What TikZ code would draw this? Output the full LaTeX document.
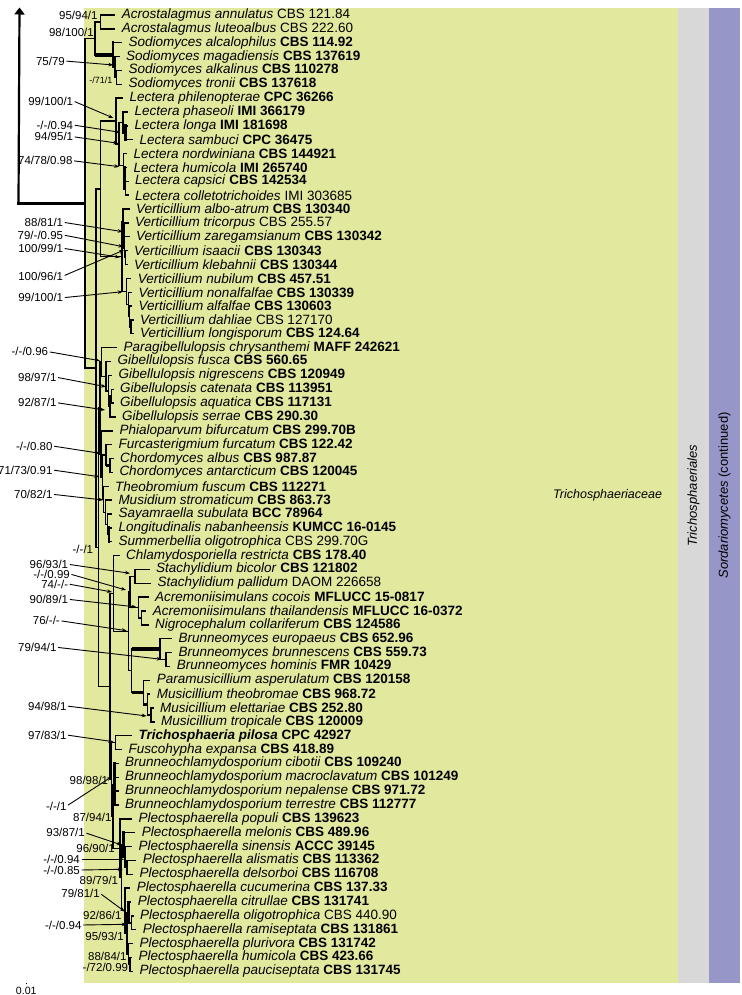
\documentclass[tikz,border=0pt]{standalone}
\usepackage{fontspec}
\setmainfont{Liberation Sans}
\usetikzlibrary{calc,arrows.meta}
\definecolor{famgreen}{RGB}{226,233,158}
\definecolor{ordgray}{RGB}{216,216,216}
\definecolor{clspurple}{RGB}{150,150,200}
\tikzset{
  br/.style={line width=1.4pt, line cap=rect},
  thk/.style={line width=3.6pt},
  thkv/.style={line width=2.8pt},
  taxon/.style={anchor=west, inner sep=0pt, font=\fontsize{13.5}{14}\selectfont},
  supp/.style={anchor=east, inner sep=0pt, font=\fontsize{11.5}{12}\selectfont},
  supps/.style={anchor=east, inner sep=0pt, font=\fontsize{9}{10}\selectfont},
  pointer/.style={line width=0.9pt, -{Stealth[length=5pt,width=3.6pt]}, shorten <=1.5pt},
}
\newcommand{\sn}[1]{\textit{#1}}
\newcommand{\st}[1]{\textbf{#1}}
\newcommand{\tipnode}[4]{%
  \pgfmathsetmacro\tipy{15+(#2-1)*13.86}%
  \pgfmathsetmacro\tipx{#3-7}%
  \coordinate (#1) at (\tipx,\tipy);
  \node[taxon] (#1-t) at (#3,\tipy) {#4};
}
\newcommand{\joinnode}[5][br]{%
  \path let \p1=(#4), \p2=(#5) in (#3pt,{(\y1+\y2)/2}) coordinate (#2);
  \draw[br,#1] (#2 |- #4) -- (#2 |- #5);
  \draw[br] (#2 |- #4) -- (#4);
  \draw[br] (#2 |- #5) -- (#5);
}
\newcommand{\suplab}[4][supp]{\node[#1] (#2) at (#3) {#4};}
\newcommand{\supptr}[5]{%
  \node[supp] (#1) at (#2) {#3};
  \coordinate (#1-to) at (#4,#5);
  \draw[pointer] (#1.east) -- (#1-to);
}
\begin{document}
\begin{tikzpicture}[x=1pt,y=-1pt]
\useasboundingbox (0,0) rectangle (741,995);
\fill[famgreen] (84,8) rectangle (678,983);
\fill[ordgray] (678,8) rectangle (709,983);
\fill[clspurple] (709,8) rectangle (740,983);

\node[font=\itshape\fontsize{12.5}{14}\selectfont, inner sep=0pt, anchor=west] (fam) at (553,495.5) {Trichosphaeriaceae};
\node[font=\itshape\fontsize{13}{14}\selectfont, inner sep=0pt, rotate=90] (ord) at (693.5,495.5) {Trichosphaeriales};
\node[font=\fontsize{13}{14}\selectfont, inner sep=0pt, rotate=90] (cls) at (724.5,495.5) {\textit{Sordariomycetes} (continued)};

% taxa
\tipnode{t1}{1}{121.7}{\sn{Acrostalagmus annulatus} CBS 121.84}
\tipnode{t2}{2}{121.7}{\sn{Acrostalagmus luteoalbus} CBS 222.60}
\tipnode{t3}{3}{128.3}{\sn{Sodiomyces alcalophilus} \st{CBS 114.92}}
\tipnode{t4}{4}{126}{\sn{Sodiomyces magadiensis} \st{CBS 137619}}
\tipnode{t5}{5}{128.3}{\sn{Sodiomyces alkalinus} \st{CBS 110278}}
\tipnode{t6}{6}{128.3}{\sn{Sodiomyces tronii} \st{CBS 137618}}
\tipnode{t7}{7}{129.3}{\sn{Lectera philenopterae} \st{CPC 36266}}
\tipnode{t8}{8}{134.3}{\sn{Lectera phaseoli} \st{IMI 366179}}
\tipnode{t9}{9}{134.3}{\sn{Lectera longa} \st{IMI 181698}}
\tipnode{t10}{10}{139.3}{\sn{Lectera sambuci} \st{CPC 36475}}
\tipnode{t11}{11}{133.3}{\sn{Lectera nordwiniana} \st{CBS 144921}}
\tipnode{t12}{12}{133.3}{\sn{Lectera humicola} \st{IMI 265740}}
\tipnode{t13}{13}{135}{\sn{Lectera capsici} \st{CBS 142534}}
\tipnode{t14}{14}{135}{\sn{Lectera colletotrichoides} IMI 303685}
\tipnode{t15}{15}{136}{\sn{Verticillium albo-atrum} \st{CBS 130340}}
\tipnode{t16}{16}{135}{\sn{Verticillium tricorpus} CBS 255.57}
\tipnode{t17}{17}{136}{\sn{Verticillium zaregamsianum} \st{CBS 130342}}
\tipnode{t18}{18}{134}{\sn{Verticillium isaacii} \st{CBS 130343}}
\tipnode{t19}{19}{134}{\sn{Verticillium klebahnii} \st{CBS 130344}}
\tipnode{t20}{20}{137.7}{\sn{Verticillium nubilum} \st{CBS 457.51}}
\tipnode{t21}{21}{138.3}{\sn{Verticillium nonalfalfae} \st{CBS 130339}}
\tipnode{t22}{22}{138.3}{\sn{Verticillium alfalfae} \st{CBS 130603}}
\tipnode{t23}{23}{140}{\sn{Verticillium dahliae} CBS 127170}
\tipnode{t24}{24}{140}{\sn{Verticillium longisporum} \st{CBS 124.64}}
\tipnode{t25}{25}{123.3}{\sn{Paragibellulopsis chrysanthemi} \st{MAFF 242621}}
\tipnode{t26}{26}{117.3}{\sn{Gibellulopsis fusca} \st{CBS 560.65}}
\tipnode{t27}{27}{118.3}{\sn{Gibellulopsis nigrescens} \st{CBS 120949}}
\tipnode{t28}{28}{120}{\sn{Gibellulopsis catenata} \st{CBS 113951}}
\tipnode{t29}{29}{120}{\sn{Gibellulopsis aquatica} \st{CBS 117131}}
\tipnode{t30}{30}{122}{\sn{Gibellulopsis serrae} \st{CBS 290.30}}
\tipnode{t31}{31}{119.3}{\sn{Phialoparvum bifurcatum} \st{CBS 299.70B}}
\tipnode{t32}{32}{118.3}{\sn{Furcasterigmium furcatum} \st{CBS 122.42}}
\tipnode{t33}{33}{120}{\sn{Chordomyces albus} \st{CBS 987.87}}
\tipnode{t34}{34}{119.3}{\sn{Chordomyces antarcticum} \st{CBS 120045}}
\tipnode{t35}{35}{115}{\sn{Theobromium fuscum} \st{CBS 112271}}
\tipnode{t36}{36}{118.3}{\sn{Musidium stromaticum} \st{CBS 863.73}}
\tipnode{t37}{37}{118.3}{\sn{Sayamraella subulata} \st{BCC 78964}}
\tipnode{t38}{38}{118.3}{\sn{Longitudinalis nabanheensis} \st{KUMCC 16-0145}}
\tipnode{t39}{39}{118.3}{\sn{Summerbellia oligotrophica} CBS 299.70G}
\tipnode{t40}{40}{126}{\sn{Chlamydosporiella restricta} \st{CBS 178.40}}
\tipnode{t41}{41}{156}{\sn{Stachylidium bicolor} \st{CBS 121802}}
\tipnode{t42}{42}{157.3}{\sn{Stachylidium pallidum} DAOM 226658}
\tipnode{t43}{43}{155}{\sn{Acremoniisimulans cocois} \st{MFLUCC 15-0817}}
\tipnode{t44}{44}{152.7}{\sn{Acremoniisimulans thailandensis} \st{MFLUCC 16-0372}}
\tipnode{t45}{45}{155}{\sn{Nigrocephalum collariferum} \st{CBS 124586}}
\tipnode{t46}{46}{178.3}{\sn{Brunneomyces europaeus} \st{CBS 652.96}}
\tipnode{t47}{47}{178.3}{\sn{Brunneomyces brunnescens} \st{CBS 559.73}}
\tipnode{t48}{48}{176.7}{\sn{Brunneomyces hominis} \st{FMR 10429}}
\tipnode{t49}{49}{156.7}{\sn{Paramusicillium asperulatum} \st{CBS 120158}}
\tipnode{t50}{50}{156.7}{\sn{Musicillium theobromae} \st{CBS 968.72}}
\tipnode{t51}{51}{160}{\sn{Musicillium elettariae} \st{CBS 252.80}}
\tipnode{t52}{52}{161}{\sn{Musicillium tropicale} \st{CBS 120009}}
\tipnode{t53}{53}{138.3}{\textbf{\textit{Trichosphaeria pilosa} CPC 42927}}
\tipnode{t54}{54}{128.3}{\sn{Fuscohypha expansa} \st{CBS 418.89}}
\tipnode{t55}{55}{125}{\sn{Brunneochlamydosporium cibotii} \st{CBS 109240}}
\tipnode{t56}{56}{125}{\sn{Brunneochlamydosporium macroclavatum} \st{CBS 101249}}
\tipnode{t57}{57}{125}{\sn{Brunneochlamydosporium nepalense} \st{CBS 971.72}}
\tipnode{t58}{58}{125}{\sn{Brunneochlamydosporium terrestre} \st{CBS 112777}}
\tipnode{t59}{59}{138.3}{\sn{Plectosphaerella populi} \st{CBS 139623}}
\tipnode{t60}{60}{141.7}{\sn{Plectosphaerella melonis} \st{CBS 489.96}}
\tipnode{t61}{61}{138.3}{\sn{Plectosphaerella sinensis} \st{ACCC 39145}}
\tipnode{t62}{62}{142.7}{\sn{Plectosphaerella alismatis} \st{CBS 113362}}
\tipnode{t63}{63}{139.3}{\sn{Plectosphaerella delsorboi} \st{CBS 116708}}
\tipnode{t64}{64}{136.7}{\sn{Plectosphaerella cucumerina} \st{CBS 137.33}}
\tipnode{t65}{65}{137.7}{\sn{Plectosphaerella citrullae} \st{CBS 131741}}
\tipnode{t66}{66}{140}{\sn{Plectosphaerella oligotrophica} CBS 440.90}
\tipnode{t67}{67}{142.7}{\sn{Plectosphaerella ramiseptata} \st{CBS 131861}}
\tipnode{t68}{68}{139.3}{\sn{Plectosphaerella plurivora} \st{CBS 131742}}
\tipnode{t69}{69}{138.3}{\sn{Plectosphaerella humicola} \st{CBS 423.66}}
\tipnode{t70}{70}{139.3}{\sn{Plectosphaerella pauciseptata} \st{CBS 131745}}

% Acrostalagmus + Sodiomyces
\joinnode{Acro}{100.7}{t1}{t2}
\joinnode{S3}{116.5}{t5}{t6}
\joinnode{S2}{115}{t4}{S3}
\joinnode[thkv]{S}{113}{t3}{S2}
\joinnode{AS}{95}{Acro}{S}
\draw[thk] (AS |- S) -- (S);
% Lectera
\joinnode[thkv]{L3b}{125.5}{t9}{t10}
\joinnode{L3}{123}{t8}{L3b}
\joinnode{L4c}{125.5}{t13}{t14}
\joinnode[thkv]{L4b}{124.5}{t12}{L4c}
\joinnode{L4}{123.5}{t11}{L4b}
\joinnode{L2}{119}{L3}{L4}
\joinnode{L}{116}{t7}{L2}
% Verticillium
\joinnode{V1d}{125.2}{t18}{t19}
\joinnode{V1c}{124.4}{t17}{V1d}
\joinnode[thkv]{V1b}{123.6}{t16}{V1c}
\joinnode{V1}{122.8}{t15}{V1b}
\joinnode{V2d}{131}{t23}{t24}
\joinnode{V2c}{129.5}{t22}{V2d}
\joinnode{V2b}{128.3}{t21}{V2c}
\joinnode{V2}{126.5}{t20}{V2b}
\joinnode{V}{122}{V1}{V2}
\joinnode{LV}{100.7}{L}{V}
% Paragibellulopsis ... Summerbellia
\joinnode{Gib4}{111.5}{t28}{t29}
\joinnode{Gib3}{110}{Gib4}{t30}
\joinnode{Gib2}{108.3}{t27}{Gib3}
\joinnode{Gib}{106}{t26}{Gib2}
\joinnode{GA}{101.7}{t25}{Gib}
\joinnode{Chord}{110}{t33}{t34}
\joinnode{Fur}{106}{t32}{Chord}
\draw[thk] (Fur |- Chord) -- (Chord);
\joinnode[thkv]{TG4}{109}{t38}{t39}
\joinnode{TG3}{107.5}{t37}{TG4}
\joinnode{TG2}{105.5}{t36}{TG3}
\joinnode{TG}{103.3}{t35}{TG2}
\joinnode{GB2}{102.3}{Fur}{TG}
\joinnode{GB}{101}{t31}{GB2}
\joinnode{G}{100}{GA}{GB}
% Chlamydosporiella ... Musicillium
\joinnode{Stach}{135}{t41}{t42}
\joinnode{Ac2}{141.7}{t44}{t45}
\joinnode{Ac}{138.3}{t43}{Ac2}
\joinnode{SA}{130}{Stach}{Ac}
\joinnode{Bru2}{166}{t47}{t48}
\joinnode{Bru}{160}{t46}{Bru2}
\joinnode{Mu2}{151}{t51}{t52}
\joinnode{Mu1}{147.5}{t50}{Mu2}
\joinnode{Mu0}{143.3}{t49}{Mu1}
\draw[thk] (Mu0 |- Mu1) -- (Mu1);
\joinnode{BM}{131.7}{Bru}{Mu0}
\draw[thk] (BM |- Bru) -- (Bru);
\draw[thk] (BM |- Mu0) -- (Mu0);
\joinnode{SABM}{128.3}{SA}{BM}
\joinnode{CH}{113.3}{t40}{SABM}
% Trichosphaeria ... Plectosphaerella
\joinnode{TF}{115.5}{t53}{t54}
\path let \p1=(t55), \p2=(t58) in (114.5pt,{(\y1+\y2)/2}) coordinate (BR);
\draw[br,thkv] (BR |- t55) -- (BR |- t58);
\foreach \k in {t55,t56,t57,t58} \draw[br] (BR |- \k) -- (\k);
\joinnode{Pl3c}{127}{t62}{t63}
\joinnode{Pl3b}{125}{t61}{Pl3c}
\joinnode[thkv]{Pl3}{123.3}{t60}{Pl3b}
\joinnode{Pl4e}{131.7}{t66}{t67}
\joinnode[thkv]{Pl4c}{128.3}{t65}{Pl4e}
\joinnode{Pl4f}{130}{t69}{t70}
\joinnode{Pl4d}{128.3}{t68}{Pl4f}
\joinnode{Pl4b}{127}{Pl4c}{Pl4d}
\joinnode{Pl4}{125}{t64}{Pl4b}
\joinnode{Pl2}{121.7}{Pl3}{Pl4}
\joinnode{Pl}{120}{t59}{Pl2}
\joinnode{BP}{113}{BR}{Pl}
\joinnode{K}{111.5}{TF}{BP}
\joinnode{H}{110}{CH}{K}
% backbone
\joinnode{C}{98.5}{G}{H}
\joinnode{B}{96}{LV}{C}
\joinnode{R}{85}{AS}{B}

% root
\path (R) ++(-66.5,0) coordinate (rootbase);
\coordinate (roottop) at (19.5,7.5);
\draw[line width=3.3pt] ([xshift=-1.1pt]rootbase) -- (R);
\draw[line width=2.2pt, -{Triangle[length=7pt,width=10pt]}] (rootbase) -- (roottop);

% scale
\coordinate (sb1) at (25.8,983);
\coordinate (sb2) at (27,983);
\draw[line width=1pt] (sb1) -- (sb2);
\node[inner sep=0pt, font=\fontsize{10.6}{11}\selectfont] (scl) at (26.3,990.5) {0.01};

% support values
\suplab{s1}{97.7,15}{95/94/1}
\suplab{s2}{94,32.3}{98/100/1}
\supptr{s3}{65,61}{75/79}{113.3}{65}
\suplab[supps]{s4}{112.7,80}{-/71/1}
\supptr{s5}{73.3,101}{99/100/1}{113.3}{118}
\supptr{s6}{73.3,125}{-/-/0.94}{120}{132.3}
\supptr{s7}{73.3,136.7}{94/95/1}{118.3}{143.3}
\supptr{s8}{72.7,160.7}{74/78/0.98}{119.3}{166.7}
\supptr{s9}{63.3,222.3}{88/81/1}{122.7}{231.7}
\supptr{s10}{63.3,235}{79/-/0.95}{123.3}{246.7}
\supptr{s11}{63.3,248.3}{100/99/1}{120}{257.3}
\supptr{s12}{63.3,276}{100/96/1}{124}{250}
\supptr{s13}{63.3,297.7}{99/100/1}{122.7}{291.7}
\supptr{s14}{48.3,351.7}{-/-/0.96}{100}{360.7}
\supptr{s15}{56.7,377.3}{98/97/1}{106}{386.7}
\supptr{s16}{56.7,402.7}{92/87/1}{105}{410}
\supptr{s17}{52.7,446}{-/-/0.80}{100}{453.3}
\supptr{s18}{52.7,470}{71/73/0.91}{99.3}{476.7}
\supptr{s19}{52.7,494.3}{70/82/1}{103.3}{500}
\suplab{s20}{93.3,549.3}{-/-/1}
\supptr{s21}{68.3,564.3}{96/93/1}{130}{573.3}
\supptr{s22}{70,574}{-/-/0.99}{126}{590}
\supptr{s23}{68.3,584}{74/-/-}{112}{592}
\supptr{s24}{68.3,599.3}{90/89/1}{136.5}{607}
\supptr{s25}{60,620.7}{76/-/-}{126.7}{630.7}
\supptr{s26}{56.7,647.3}{79/94/1}{161.7}{659.3}
\supptr{s27}{66.7,706}{94/98/1}{146.7}{716}
\supptr{s28}{66.7,735}{97/83/1}{113.3}{741.7}
\suplab{s29}{108.3,780}{98/98/1}
\supptr{s30}{66.7,806}{-/-/1}{111.7}{776.7}
\suplab{s31}{111.7,817.3}{87/94/1}
\supptr{s32}{85,832.7}{93/87/1}{121.7}{845}
\suplab{s33}{115,848.3}{96/90/1}
\supptr{s34}{80,859.3}{-/-/0.94}{124}{859.3}
\supptr{s35}{80,870}{-/-/0.85}{122.7}{869.3}
\suplab{s36}{118.3,880}{89/79/1}
\supptr{s37}{100,893.3}{79/81/1}{125}{911.7}
\suplab{s38}{121.7,915}{92/86/1}
\supptr{s39}{81.7,925}{-/-/0.94}{126.7}{924.3}
\suplab{s40}{124,936.7}{95/93/1}
\suplab{s41}{126.7,956.7}{88/84/1}
\suplab{s42}{128.3,967.3}{-/72/0.99}
\end{tikzpicture}
\end{document}
